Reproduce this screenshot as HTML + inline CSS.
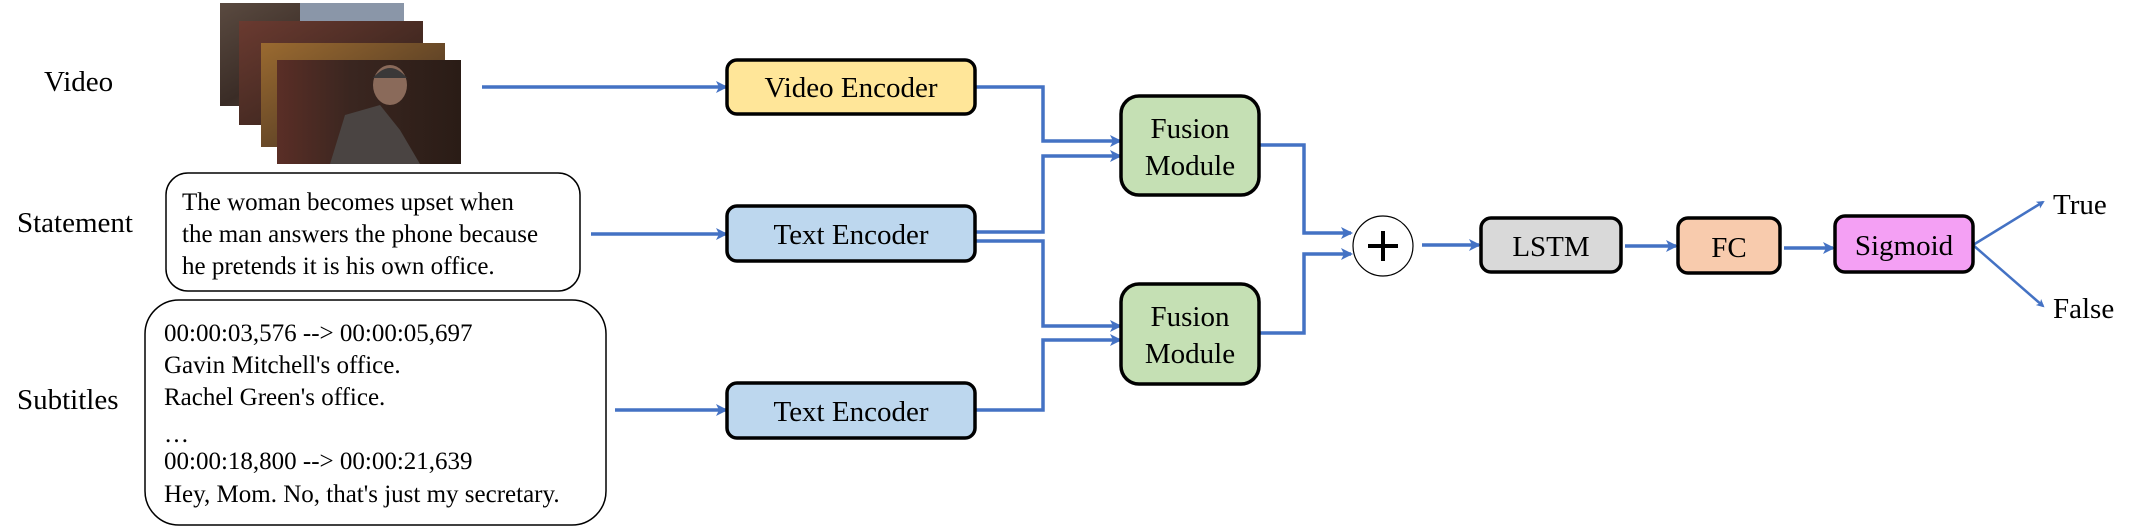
<!DOCTYPE html>
<html><head><meta charset="utf-8"><style>
html,body{margin:0;padding:0;background:#fff;}
svg{display:block;}
text{font-family:"Liberation Serif",serif;fill:#000;}
</style></head><body>
<svg width="2131" height="528" viewBox="0 0 2131 528" xmlns="http://www.w3.org/2000/svg">
<defs>
<marker id="ah" markerWidth="8" markerHeight="8" refX="6" refY="4" orient="auto" markerUnits="userSpaceOnUse">
<path d="M0,0 L8,4 L0,8 L2,4 Z" fill="#4472C4" transform="scale(1)"/>
</marker>
<marker id="a2" markerWidth="12" markerHeight="12" refX="10" refY="6" orient="auto" markerUnits="userSpaceOnUse">
<path d="M0,0 L12,6 L0,12 L3,6 Z" fill="#4472C4"/>
</marker>
<linearGradient id="g1" x1="0" y1="0" x2="1" y2="1"><stop offset="0" stop-color="#5a4a40"/><stop offset="0.5" stop-color="#3a2c26"/><stop offset="1" stop-color="#6a5a50"/></linearGradient>
<linearGradient id="g2" x1="0" y1="0" x2="1" y2="1"><stop offset="0" stop-color="#6a3a30"/><stop offset="1" stop-color="#2a1e18"/></linearGradient>
<linearGradient id="g3" x1="0" y1="0" x2="1" y2="1"><stop offset="0" stop-color="#9a6a30"/><stop offset="1" stop-color="#3a2a20"/></linearGradient>
<linearGradient id="g4" x1="0" y1="0" x2="1" y2="0"><stop offset="0" stop-color="#5a2e26"/><stop offset="0.4" stop-color="#3a2620"/><stop offset="1" stop-color="#2a1c16"/></linearGradient>
</defs>

<!-- labels -->
<text x="44" y="91" font-size="29">Video</text>
<text x="17" y="232" font-size="29">Statement</text>
<text x="17" y="409" font-size="29">Subtitles</text>

<!-- video frames -->
<rect x="220" y="3" width="184" height="103" fill="url(#g1)"/>
<rect x="300" y="3" width="104" height="18" fill="#8a96a8"/>
<rect x="239" y="21" width="184" height="104" fill="url(#g2)"/>
<rect x="261" y="43" width="184" height="104" fill="url(#g3)"/>
<rect x="277" y="60" width="184" height="104" fill="url(#g4)"/>
<path d="M330,164 L345,115 L380,105 L400,130 L420,164 Z" fill="#4a4442"/>
<ellipse cx="390" cy="85" rx="17" ry="20" fill="#8a6a5a"/>
<path d="M373,78 Q390,58 407,78 Z" fill="#3a3838"/>

<!-- statement box -->
<rect x="166" y="173" width="414" height="118" rx="22" fill="#fff" stroke="#000" stroke-width="1.5"/>
<text x="182" y="210" font-size="25">The woman becomes upset when</text>
<text x="182" y="242" font-size="25">the man answers the phone because</text>
<text x="182" y="274" font-size="25">he pretends it is his own office.</text>

<!-- subtitles box -->
<rect x="145" y="300" width="461" height="225" rx="34" fill="#fff" stroke="#000" stroke-width="1.5"/>
<g font-size="25">
<text x="164" y="341">00:00:03,576 --&gt; 00:00:05,697</text>
<text x="164" y="373">Gavin Mitchell's office.</text>
<text x="164" y="405">Rachel Green's office.</text>
<text x="164" y="442">…</text>
<text x="164" y="469">00:00:18,800 --&gt; 00:00:21,639</text>
<text x="164" y="502">Hey, Mom. No, that's just my secretary.</text>
</g>

<!-- connectors -->
<g stroke="#4472C4" stroke-width="3.5" fill="none" marker-end="url(#a2)">
<path d="M482,87 H726"/>
<path d="M591,234 H726"/>
<path d="M615,410 H726"/>
<path d="M975,87 H1043 V141 H1120"/>
<path d="M975,232 H1043 V156 H1120"/>
<path d="M975,241 H1043 V326 H1120"/>
<path d="M975,410 H1043 V340 H1120"/>
<path d="M1259,145 H1304 V233 H1351"/>
<path d="M1259,333 H1304 V254 H1351"/>
<path d="M1422,245 H1479"/>
<path d="M1625,246 H1676"/>
<path d="M1784,248 H1833"/>
</g>
<g stroke="#4472C4" stroke-width="2.5" fill="none" marker-end="url(#ah)">
<path d="M1973,245 L2043,202"/>
<path d="M1973,245 L2043,306"/>
</g>

<!-- boxes -->
<g stroke="#000" stroke-width="3.5">
<rect x="727" y="60" width="248" height="54" rx="10" fill="#FFE699"/>
<rect x="727" y="206" width="248" height="55" rx="10" fill="#BDD7EE"/>
<rect x="727" y="383" width="248" height="55" rx="10" fill="#BDD7EE"/>
<rect x="1121" y="96" width="138" height="99" rx="18" fill="#C5E0B4"/>
<rect x="1121" y="284" width="138" height="100" rx="18" fill="#C5E0B4"/>
<rect x="1481" y="218" width="140" height="54" rx="10" fill="#D9D9D9"/>
<rect x="1678" y="218" width="102" height="55" rx="10" fill="#F8CBAD"/>
<rect x="1835" y="216" width="138" height="56" rx="10" fill="#F4A0F4"/>
</g>
<circle cx="1383" cy="246" r="30" fill="#fff" stroke="#000" stroke-width="1.2"/>
<path d="M1383,231 V261 M1368,246 H1398" stroke="#000" stroke-width="4"/>

<g font-size="29" text-anchor="middle">
<text x="851" y="97">Video Encoder</text>
<text x="851" y="244">Text Encoder</text>
<text x="851" y="421">Text Encoder</text>
<text x="1190" y="138">Fusion</text>
<text x="1190" y="175">Module</text>
<text x="1190" y="326">Fusion</text>
<text x="1190" y="363">Module</text>
<text x="1551" y="256">LSTM</text>
<text x="1729" y="257">FC</text>
<text x="1904" y="255">Sigmoid</text>
</g>
<text x="2053" y="214" font-size="29">True</text>
<text x="2053" y="318" font-size="29">False</text>
</svg>
</body></html>
